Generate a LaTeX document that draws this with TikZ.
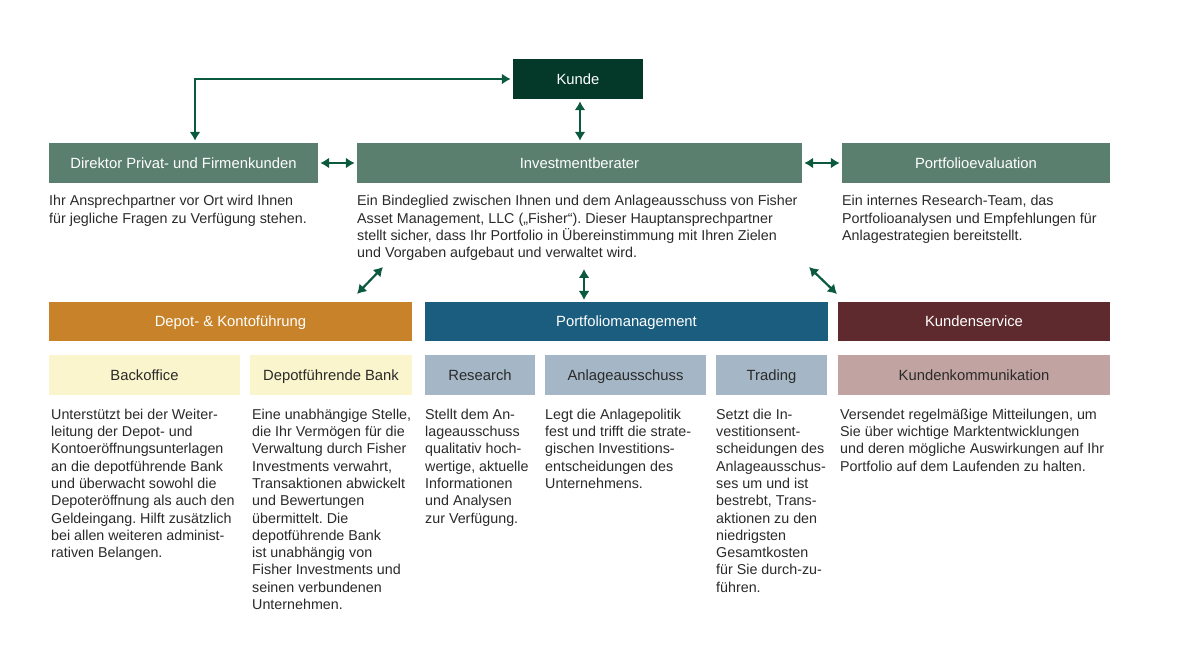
\documentclass[tikz,border=0pt]{standalone}
\usepackage{fontspec}
\setmainfont{Liberation Sans}
\usepackage{tikz}
\usetikzlibrary{arrows.meta}
\frenchspacing
\definecolor{kundegreen}{HTML}{04392A}
\definecolor{midgreen}{HTML}{5B7F6E}
\definecolor{arrowgreen}{HTML}{0B5A3E}
\definecolor{depotorange}{HTML}{C8832A}
\definecolor{pmblue}{HTML}{1B5D7E}
\definecolor{servicered}{HTML}{5E2A2E}
\definecolor{lightyellow}{HTML}{FAF5CC}
\definecolor{lightblue}{HTML}{A5B7C6}
\definecolor{lightred}{HTML}{C1A4A1}
\definecolor{bodytext}{HTML}{2A2A2A}
\tikzstyle{box}=[rectangle, inner sep=0pt, minimum height=40pt, text height=10.6pt, text depth=0pt, text=white]
\tikzstyle{sub}=[rectangle, inner sep=0pt, minimum height=40pt, text height=10.6pt, text depth=0pt, text=bodytext]
\tikzstyle{desc}=[anchor=north west, inner sep=0pt, align=left, text=bodytext, font=\fontsize{14.3}{17.3}\selectfont]
\tikzstyle{conn}=[<->, >={Latex[length=9pt,width=11pt]}, draw=arrowgreen, line width=2.2pt, shorten >=2pt, shorten <=2pt]

\begin{document}
\begin{tikzpicture}[x=1pt, y=-1pt, font=\fontsize{14.8}{17.3}\selectfont]
	\fill[white] (0,0) rectangle (1200,647);
	\useasboundingbox (0,0) rectangle (1200,647);
	% top row
	\draw (578,79) node[box, fill=kundegreen, minimum width=130pt] (kunde) {Kunde};
	\draw (183.5,163) node[box, fill=midgreen, minimum width=269pt] (direktor) {Direktor Privat- und Firmenkunden};
	\draw (579.5,163) node[box, fill=midgreen, minimum width=445pt] (berater) {Investmentberater};
	\draw (976,163) node[box, fill=midgreen, minimum width=268pt] (evaluation) {Portfolioevaluation};
	\draw (49,193.4) node[desc] (direktorText) {\strut Ihr Ansprechpartner vor Ort wird Ihnen\\für jegliche Fragen zu Verfügung stehen.};
	\draw (357,193.4) node[desc] (beraterText) {\strut Ein Bindeglied zwischen Ihnen und dem Anlageausschuss von Fisher\\Asset Management, LLC („Fisher“). Dieser Hauptansprechpartner\\stellt sicher, dass Ihr Portfolio in Übereinstimmung mit Ihren Zielen\\und Vorgaben aufgebaut und verwaltet wird.};
	\draw (842,193.4) node[desc] (evaluationText) {\strut Ein internes Research-Team, das\\Portfolioanalysen und Empfehlungen für\\Anlagestrategien bereitstellt.};
	% second row
	\draw (230.5,321.5) node[box, fill=depotorange, minimum width=363pt, minimum height=39pt] (depot) {Depot- \& Kontoführung};
	\draw (626.5,321.5) node[box, fill=pmblue, minimum width=403pt, minimum height=39pt] (pm) {Portfoliomanagement};
	\draw (974,321.5) node[box, fill=servicered, minimum width=272pt, minimum height=39pt] (service) {Kundenservice};
	\draw (144.5,375) node[sub, fill=lightyellow, minimum width=191pt] (backoffice) {Backoffice};
	\draw (331,375) node[sub, fill=lightyellow, minimum width=162pt] (bank) {Depotführende Bank};
	\draw (480,375) node[sub, fill=lightblue, minimum width=110pt] (research) {Research};
	\draw (625.5,375) node[sub, fill=lightblue, minimum width=161pt] (ausschuss) {Anlageausschuss};
	\draw (771.5,375) node[sub, fill=lightblue, minimum width=111pt] (trading) {Trading};
	\draw (974,375) node[sub, fill=lightred, minimum width=272pt] (kommunikation) {Kundenkommunikation};
	\draw (51,406.9) node[desc] (backofficeText) {\strut Unterstützt bei der Weiter-\\leitung der Depot- und\\Kontoeröffnungsunterlagen\\an die depotführende Bank\\und überwacht sowohl die\\Depoteröffnung als auch den\\Geldeingang. Hilft zusätzlich\\bei allen weiteren administ-\\rativen Belangen.};
	\draw (252,406.9) node[desc] (bankText) {\strut Eine unabhängige Stelle,\\die Ihr Vermögen für die\\Verwaltung durch Fisher\\Investments verwahrt,\\Transaktionen abwickelt\\und Bewertungen\\übermittelt. Die\\depotführende Bank\\ist unabhängig von\\Fisher Investments und\\seinen verbundenen\\Unternehmen.};
	\draw (425,406.9) node[desc] (researchText) {\strut Stellt dem An-\\lageausschuss\\qualitativ hoch-\\wertige, aktuelle\\Informationen\\und Analysen\\zur Verfügung.};
	\draw (545,406.9) node[desc] (ausschussText) {\strut Legt die Anlagepolitik\\fest und trifft die strate-\\gischen Investitions-\\entscheidungen des\\Unternehmens.};
	\draw (716,406.9) node[desc] (tradingText) {\strut Setzt die In-\\vestitionsent-\\scheidungen des\\Anlageausschus-\\ses um und ist\\bestrebt, Trans-\\aktionen zu den\\niedrigsten\\Gesamtkosten\\für Sie durch-zu-\\führen.};
	\draw (840,406.9) node[desc] (kommunikationText) {\strut Versendet regelmäßige Mitteilungen, um\\Sie über wichtige Marktentwicklungen\\und deren mögliche Auswirkungen auf Ihr\\Portfolio auf dem Laufenden zu halten.};
	% connectors
	\coordinate (leftTop) at (383,267);
	\coordinate (leftBottom) at (357,294);
	\coordinate (midTop) at (584,269);
	\coordinate (midBottom) at (584,300);
	\coordinate (rightTop) at (809,267);
	\coordinate (rightBottom) at (837,294);
	\draw[conn] ([xshift=11.5pt]direktor.north) |- (kunde.west);
	\draw[conn] ([xshift=2pt]kunde.south) -- ([xshift=2pt]kunde.south |- berater.north);
	\draw[conn] (direktor.east) -- (berater.west);
	\draw[conn] (berater.east) -- (evaluation.west);
	\draw[conn, shorten >=0pt, shorten <=0pt] (leftTop) -- (leftBottom);
	\draw[conn, shorten >=0pt, shorten <=0pt] (midTop) -- (midBottom);
	\draw[conn, shorten >=0pt, shorten <=0pt] (rightTop) -- (rightBottom);
\end{tikzpicture}
\end{document}
